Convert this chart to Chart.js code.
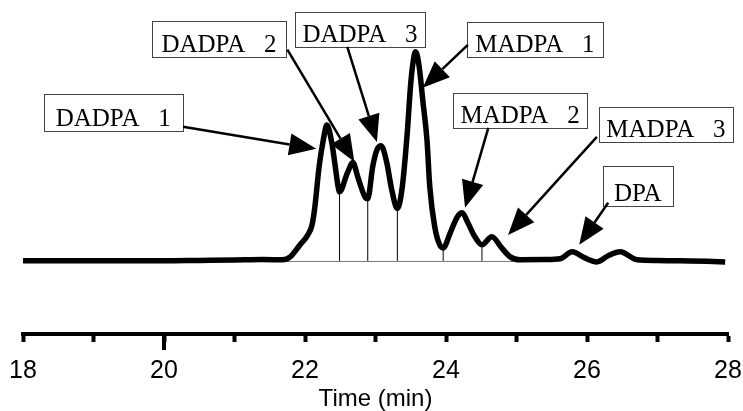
<!DOCTYPE html>
<html>
<head>
<meta charset="utf-8">
<script src="https://cdn.jsdelivr.net/npm/chart.js@4.4.0/dist/chart.umd.min.js"></script>
<style>
  html, body { margin: 0; padding: 0; background: #fff; }
  #wrap { width: 743px; height: 411px; }
</style>
</head>
<body>
<div id="wrap"><canvas id="chromChart" width="743" height="411"></canvas></div>
<script>
// retention time (min) and detector signal (peak MADPA 1 = 100)
const times = [18.00, 18.50, 19.00, 19.50, 20.00, 20.50, 21.00, 21.40, 21.68, 21.79,
  21.93, 22.04, 22.10, 22.14, 22.20, 22.26, 22.31, 22.38, 22.43, 22.47,
  22.49, 22.60, 22.68, 22.75, 22.85, 22.89, 22.96, 23.02, 23.08, 23.16,
  23.23, 23.31, 23.38, 23.45, 23.50, 23.55, 23.57, 23.62, 23.67, 23.73,
  23.77, 23.84, 23.91, 23.96, 24.06, 24.16, 24.23, 24.31, 24.41, 24.51,
  24.65, 24.79, 24.91, 25.05, 25.40, 25.62, 25.79, 25.97, 26.14, 26.30,
  26.47, 26.71, 27.00, 27.32, 27.70, 27.96];
const signal = [0, 0, 0, 0, 0, 0.2, 0.4, 0.6, 0.5, 1.9,
  7.7, 12.4, 17.2, 25.8, 45, 57.9, 65, 56.5, 45, 35.4,
  33, 42, 47, 40, 30.6, 29.7, 45, 53, 55, 47,
  34, 25, 35.4, 61, 85, 98.6, 100, 92.8, 77, 57.9,
  35.4, 16.3, 7.7, 6.2, 13.4, 21, 23, 18.2, 11.5, 7.7,
  11.5, 6.2, 1.9, 0.5, 0.6, 1.0, 4.3, 1.4, -0.5, 2.4,
  4.3, 0.5, 0.2, 0, -0.2, -0.5];

// valley drop lines
const dropTimes = [22.49, 22.89, 23.31, 23.96, 24.51];
const dropSignals = [33, 29.7, 25, 6.2, 7.7];

// peak labels and the point each arrow points at
const peakNames = ['DADPA   1', 'DADPA   2', 'DADPA   3', 'MADPA   1', 'MADPA   2', 'MADPA   3', 'DPA'];
const peakTimes = [22.16, 22.70, 23.02, 23.67, 24.27, 24.88, 25.89];
const peakSignals = [53.6, 47.4, 56.9, 82.8, 25.4, 12.4, 7.7];

const labeledTicks = [18, 20, 22, 24, 26, 28];

// where the label boxes sit and where the arrows leave them (time, signal)
const calloutLayout = [
  { box: [19.28, 71.0], size: [139, 37], from: [20.27, 64.1] },
  { box: [20.78, 106.0], size: [134, 36], from: [21.75, 101.0] },
  { box: [22.78, 110.8], size: [130, 35], from: [22.60, 102.4] },
  { box: [25.26, 106.0], size: [136, 35], from: [24.31, 103.3] },
  { box: [25.05, 72.0], size: [134, 35], from: [24.60, 63.6] },
  { box: [27.12, 65.3], size: [134, 35], from: [26.14, 59.3] },
  { box: [26.72, 35.9], size: [70, 40], from: [26.30, 27.8] }
];

const dropPoints = [];
dropTimes.forEach((t, i) => {
  dropPoints.push({ x: t, y: 0 }, { x: t, y: dropSignals[i] }, { x: t, y: null });
});

const calloutPlugin = {
  id: 'callouts',
  afterDatasetsDraw(chart) {
    const { ctx, scales: { x, y } } = chart;
    ctx.save();
    ctx.font = '25px "Liberation Serif", "Times New Roman", serif';
    ctx.textAlign = 'center';
    ctx.textBaseline = 'alphabetic';
    peakNames.forEach((name, i) => {
      const lay = calloutLayout[i];
      const cx = x.getPixelForValue(lay.box[0]);
      const cy = y.getPixelForValue(lay.box[1]);
      const w = lay.size[0], h = lay.size[1];
      const left = Math.round(cx - w / 2) + 0.5, top = Math.round(cy - h / 2) + 0.5;
      ctx.fillStyle = '#fff';
      ctx.fillRect(left, top, w, h);
      ctx.strokeStyle = '#444';
      ctx.lineWidth = 1;
      ctx.strokeRect(left, top, w, h);
      ctx.fillStyle = '#000';
      ctx.fillText(name, cx, top + h - 6);

      // arrow to the peak
      const x0 = x.getPixelForValue(lay.from[0]), y0 = y.getPixelForValue(lay.from[1]);
      const x1 = x.getPixelForValue(peakTimes[i]), y1 = y.getPixelForValue(peakSignals[i]);
      const ang = Math.atan2(y1 - y0, x1 - x0);
      const headLen = 27, headW = 11;
      const bx = x1 - headLen * Math.cos(ang), by = y1 - headLen * Math.sin(ang);
      ctx.beginPath();
      ctx.moveTo(x0, y0);
      ctx.lineTo(bx, by);
      ctx.lineWidth = 2.5;
      ctx.strokeStyle = '#000';
      ctx.stroke();
      ctx.beginPath();
      ctx.moveTo(x1, y1);
      ctx.lineTo(bx - headW * Math.sin(ang), by + headW * Math.cos(ang));
      ctx.lineTo(bx + headW * Math.sin(ang), by - headW * Math.cos(ang));
      ctx.closePath();
      ctx.fill();
    });
    ctx.restore();
  },
  afterDraw(chart) {
    // the longer tick under 20 min
    const { ctx, scales: { x }, chartArea } = chart;
    const px = x.getPixelForValue(20);
    ctx.save();
    ctx.beginPath();
    ctx.moveTo(px, chartArea.bottom);
    ctx.lineTo(px, chartArea.bottom + 16);
    ctx.lineWidth = 4;
    ctx.strokeStyle = '#000';
    ctx.stroke();
    ctx.restore();
  }
};

Chart.defaults.color = '#000';

const ctx = document.getElementById('chromChart').getContext('2d');
new Chart(ctx, {
  type: 'line',
  data: {
    datasets: [
      {
        label: 'Signal',
        data: times.map((t, i) => ({ x: t, y: signal[i] })),
        borderColor: '#000',
        borderWidth: 5.5,
        pointRadius: 0,
        cubicInterpolationMode: 'monotone',
        fill: false,
        order: 0
      },
      {
        label: 'Drops',
        data: dropPoints,
        borderColor: '#000',
        borderWidth: 1,
        pointRadius: 0,
        spanGaps: false,
        order: 1
      },
      {
        label: 'Baseline',
        data: [{ x: 21.6, y: -0.3 }, { x: 25.0, y: -0.3 }],
        borderColor: '#777',
        borderWidth: 1,
        pointRadius: 0,
        order: 2
      }
    ]
  },
  options: {
    responsive: false,
    animation: false,
    devicePixelRatio: 1,
    layout: { padding: { left: 23, right: 15, top: 10, bottom: 0 } },
    plugins: {
      legend: { display: false },
      tooltip: { enabled: false }
    },
    scales: {
      x: {
        type: 'linear',
        min: 18,
        max: 28,
        afterFit(scale) {
          scale.height = 77;
          scale.paddingLeft = 0;
          scale.paddingRight = 0;
        },
        border: { display: true, color: '#000', width: 4 },
        grid: {
          drawOnChartArea: false,
          drawTicks: true,
          tickLength: 8,
          tickWidth: 4,
          tickColor: '#000'
        },
        ticks: {
          stepSize: 1,
          autoSkip: false,
          maxRotation: 0,
          padding: 14,
          font: { family: '"Liberation Sans", Arial, sans-serif', size: 25 },
          callback: (v) => labeledTicks.includes(v) ? String(v) : ''
        },
        title: {
          display: true,
          text: 'Time (min)',
          font: { family: '"Liberation Sans", Arial, sans-serif', size: 24, lineHeight: 1 },
          padding: { top: 0, bottom: 0 }
        }
      },
      y: {
        display: false,
        min: -35,
        max: 120
      }
    }
  },
  plugins: [calloutPlugin]
});
</script>
</body>
</html>
